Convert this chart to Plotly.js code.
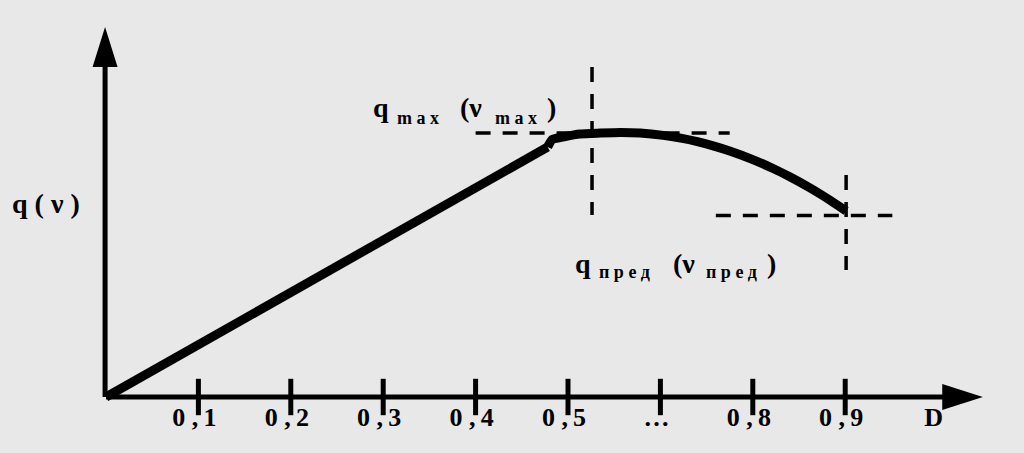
<!DOCTYPE html>
<html>
<head>
<meta charset="utf-8">
<script src="https://cdn.plot.ly/plotly-3.0.1.min.js"></script>
<style>html,body{margin:0;padding:0;background:#e8e8e8;}#chart{width:1024px;height:453px;}</style>
</head>
<body>
<div id="chart"></div>
<script>
// ---- data ----
const tickPositions = [1, 2, 3, 4, 5, 6, 7, 8, 9.0];
const tickLabels = ["0 ,\u20091", "0 ,\u20092", "0 ,\u20093", "0 ,\u20094", "0 ,\u20095", "…", "0 ,\u20098", "0 ,\u20099", "D"];
// linear rise up to the knee
const riseX = [0, 4.78];
const riseQ = [0, 2.50];
// curved part after the knee
const capX = [4.78, 4.83, 4.97, 5.13, 5.35, 5.57, 5.78, 6.03, 6.22, 6.40, 6.58, 6.75, 6.98, 7.22, 7.40, 7.59, 7.72, 7.84, 7.93, 8.01];
const capQ = [2.50, 2.575, 2.605, 2.63, 2.639, 2.645, 2.639, 2.616, 2.588, 2.553, 2.509, 2.46, 2.381, 2.285, 2.202, 2.106, 2.035, 1.965, 1.91, 1.86];
const vMax = 5.26, qMax = 2.64;
const vPred = 8.01, qPred = 1.815;

// ---- geometry ----
const W = 1024, H = 453;
const ox = 106, oy = 397, sx = 92.4, sy = 100;
const xr = [-ox / sx, (W - ox) / sx];
const yr = [-(H - oy) / sy, oy / sy];

const black = '#000000';
const dash = '15px,12px';

const traces = [
  { // ticks crossing the axis
    x: tickPositions.slice(0, 8), y: tickPositions.slice(0, 8).map(() => 0),
    type: 'scatter', mode: 'markers', hoverinfo: 'skip',
    marker: { symbol: 'line-ns', size: 26, line: { width: 5, color: black } }
  },
  {
    x: riseX, y: riseQ, type: 'scatter', mode: 'lines', hoverinfo: 'skip',
    line: { color: black, width: 9 }
  },
  {
    x: capX, y: capQ, type: 'scatter', mode: 'lines', hoverinfo: 'skip',
    line: { color: black, width: 9, shape: 'spline', smoothing: 0.6 }
  }
];

const shapes = [
  // dashed guides
  { type: 'line', xref: 'x', yref: 'y', x0: 4.0, x1: 6.75, y0: qMax, y1: qMax, line: { color: black, width: 3.5, dash: dash } },
  { type: 'line', xref: 'x', yref: 'y', x0: vMax, x1: vMax, y0: 3.30, y1: 1.82, line: { color: black, width: 3.5, dash: dash } },
  { type: 'line', xref: 'x', yref: 'y', x0: 6.60, x1: 8.51, y0: qPred, y1: qPred, line: { color: black, width: 3.5, dash: dash } },
  { type: 'line', xref: 'x', yref: 'y', x0: vPred, x1: vPred, y0: 2.22, y1: 1.27, line: { color: black, width: 3.5, dash: dash } },
  // axes
  { type: 'line', xref: 'x', yref: 'y', x0: 0, x1: 9.1, y0: 0, y1: 0, line: { color: black, width: 5 } },
  { type: 'line', xref: 'x', yref: 'y', x0: -0.01, x1: -0.01, y0: 0, y1: 3.35, line: { color: black, width: 5 } },
  // arrowheads
  { type: 'path', xref: 'x', yref: 'y', path: 'M 9.05 0.13 L 9.49 0 L 9.05 -0.13 Z', fillcolor: black, line: { width: 0 } },
  { type: 'path', xref: 'x', yref: 'y', path: 'M -0.145 3.30 L -0.01 3.70 L 0.125 3.30 Z', fillcolor: black, line: { width: 0 } }
];

const bigFont = { family: 'Liberation Serif', size: 28, color: black, weight: 'bold' };
const smallFont = { family: 'Liberation Serif', size: 18, color: black, weight: 'bold' };
function ann(text, px, py, font, anchor) {
  return { text: text, xref: 'paper', yref: 'paper', x: px / W, y: 1 - py / H,
           xanchor: anchor || 'left', yanchor: 'middle', showarrow: false, font: font };
}
const annotations = [
  ann('q ( ν )', 46, 203, bigFont, 'center'),
  ann('q', 371, 107, bigFont),
  ann('m a x', 395, 118, smallFont),
  ann('(ν', 458, 107, bigFont),
  ann('m a x', 493, 118, smallFont),
  ann(')', 545, 107, bigFont),
  ann('q', 573, 263, bigFont),
  ann('п р е д', 597, 272, smallFont),
  ann('(ν', 671, 263, bigFont),
  ann('п р е д', 704, 272, smallFont),
  ann(')', 765, 263, bigFont)
];

const layout = {
  width: W, height: H,
  margin: { l: 0, r: 0, t: 0, b: 0 },
  paper_bgcolor: '#e8e8e8', plot_bgcolor: '#e8e8e8',
  showlegend: false,
  xaxis: {
    range: xr, showgrid: false, zeroline: false, showline: false,
    anchor: 'free', position: (H - oy) / H,
    tickmode: 'array', tickvals: tickPositions, ticktext: tickLabels,
    ticks: '', ticklabelstandoff: 2, ticklabelshift: -4,
    tickfont: { family: 'Liberation Serif', size: 26, color: black, weight: 'bold' },
    fixedrange: true
  },
  yaxis: { range: yr, showgrid: false, zeroline: false, showline: false, showticklabels: false, ticks: '', fixedrange: true },
  shapes: shapes,
  annotations: annotations
};

Plotly.newPlot('chart', traces, layout, { displayModeBar: false, staticPlot: true });
</script>
</body>
</html>
